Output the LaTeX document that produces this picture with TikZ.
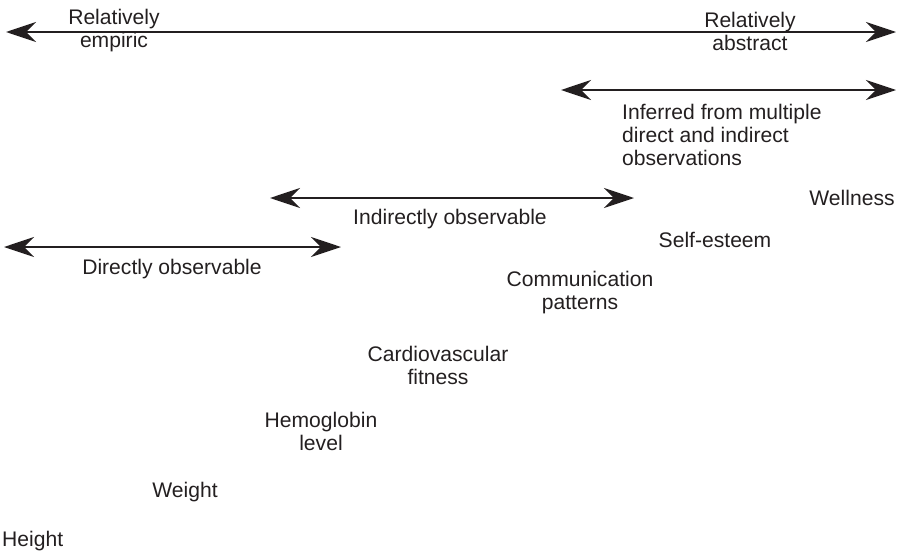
\documentclass[tikz,border=0pt]{standalone}
\usepackage{fontspec}
\setmainfont{Liberation Sans}
\usetikzlibrary{arrows.meta}
\definecolor{ink}{HTML}{231F20}
\tikzset{
  tipshape/.style={Stealth[length=30pt,width=20pt,inset=10pt]},
  biarrow/.style={draw=ink, line width=2.4pt, {Stealth[length=30pt,width=20pt,inset=10pt]}-{Stealth[length=30pt,width=20pt,inset=10pt]}},
  lbl/.style={text=ink, inner sep=0pt, align=center,
    font=\fontsize{21.1pt}{23pt}\selectfont},
}
\begin{document}
\begin{tikzpicture}[x=1pt,y=-1pt]
\useasboundingbox (0,0) rectangle (899,554);
% scale arrows
\coordinate (emp) at (6,32);  \coordinate (abs) at (896,32);
\coordinate (infL) at (561,90); \coordinate (infR) at (896,90);
\coordinate (indL) at (270,198); \coordinate (indR) at (634,198);
\coordinate (dirL) at (4,247);  \coordinate (dirR) at (341,247);
\draw[biarrow] (emp) -- (abs);
\draw[biarrow] (infL) -- (infR);
\draw[biarrow] (indL) -- (indR);
\draw[biarrow] (dirL) -- (dirR);
% end labels
\node[lbl] (empiric) at (114,31) {Relatively\\empiric};
\node[lbl] (abstract) at (750,31) {Relatively\\abstract};
\node[lbl, align=left, anchor=west] (inferred) at (622,135) {Inferred from multiple\\direct and indirect\\observations};
\node[lbl] (indirect) at (450,219) {Indirectly observable};
\node[lbl] (direct) at (172,269) {Directly observable};
% concepts
\node[lbl] (wellness) at (852,198) {Wellness};
\node[lbl] (esteem) at (715,240) {Self-esteem};
\node[lbl] (comm) at (580,293) {Communication\\patterns};
\node[lbl] (cardio) at (438,365) {Cardiovascular\\fitness};
\node[lbl] (hemo) at (321,431) {Hemoglobin\\level};
\node[lbl] (weight) at (185,492) {Weight};
\node[lbl, anchor=west] (height) at (2,541) {Height};
\end{tikzpicture}
\end{document}
